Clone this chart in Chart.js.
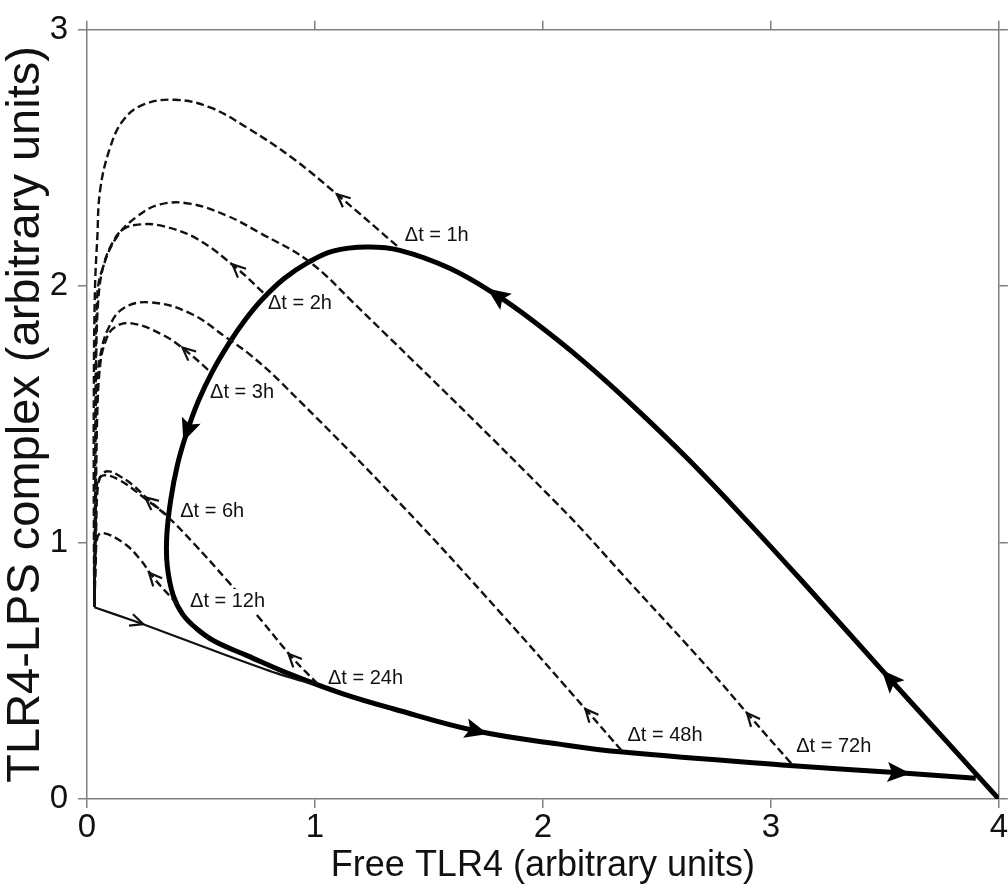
<!doctype html>
<html>
<head>
<meta charset="UTF-8">
<title>TLR4 phase plane</title>
<style>
  html, body { margin: 0; padding: 0; background: #fff; }
</style>
</head>
<body>
<canvas id="myChart" width="1008" height="888"></canvas>

<script src="https://cdn.jsdelivr.net/npm/chart.js@4.4.1/dist/chart.umd.min.js"></script>
<script>
// main trajectory (thick), listed in the direction of its arrows
var cycle = [[4.0,0.0],[3.75,0.245],[3.5,0.49],[3.167,0.82],[2.905,1.075],[2.643,1.32],[2.38,1.546],[2.174,1.71],
  [1.956,1.865],[1.797,1.965],[1.591,2.07],[1.372,2.14],[1.228,2.153],[1.079,2.137],[0.965,2.09],[0.865,2.03],
  [0.77,1.95],[0.695,1.87],[0.625,1.78],[0.55,1.667],[0.488,1.551],[0.44,1.435],[0.398,1.308],[0.367,1.165],
  [0.35,1.026],[0.352,0.91],[0.378,0.795],[0.42,0.72],[0.48,0.665],[0.56,0.615],[0.7,0.56],[0.904,0.482],
  [1.123,0.41],[1.342,0.352],[1.71,0.265],[2.073,0.214],[2.35,0.183],[3.08,0.131],[3.562,0.102],[3.899,0.081]];
var cycleArrows = [[3.52,0.47],[1.797,1.965],[0.44,1.435],[1.71,0.265],[3.562,0.102]];

// thin solid branch from the corner
var thin = [[0.032,0.748],[0.22,0.69],[0.614,0.56],[0.834,0.49],[0.99,0.448]];
var thinArrows = [[0.22,0.69]];

// dashed trajectories, each starting on the main curve at its delay
var traj1h = [[1.36,2.157],[1.118,2.342],[0.904,2.498],[0.702,2.618],[0.54,2.697],[0.387,2.727],[0.247,2.708],
  [0.159,2.647],[0.102,2.542],[0.058,2.377],[0.045,2.184],[0.035,1.99],[0.03,1.6],[0.03,1.1],[0.032,0.75]];
var traj2h = [[0.773,1.975],[0.659,2.068],[0.484,2.184],[0.335,2.234],[0.234,2.241],[0.159,2.222],[0.111,2.168],
  [0.072,2.079],[0.05,1.952],[0.04,1.7],[0.036,1.2],[0.032,0.75]];
var traj3h = [[0.531,1.674],[0.44,1.744],[0.335,1.809],[0.19,1.856],[0.116,1.836],[0.08,1.782],[0.058,1.694],
  [0.045,1.5],[0.038,1.1],[0.032,0.75]];
var traj6h = [[0.356,1.103],[0.277,1.161],[0.2,1.225],[0.146,1.258],[0.095,1.278],[0.065,1.265],[0.048,1.22],
  [0.04,1.05],[0.032,0.75]];
var traj12h = [[0.396,0.76],[0.291,0.864],[0.234,0.934],[0.16,0.999],[0.067,1.038],[0.045,1.018],[0.038,0.9],[0.032,0.75]];
var traj24h = [[1.013,0.448],[0.904,0.548],[0.76,0.702],[0.614,0.853],[0.466,0.999],[0.351,1.103],[0.25,1.175],
  [0.146,1.242],[0.072,1.262],[0.045,1.231],[0.038,1.1],[0.032,0.75]];
var traj48h = [[2.345,0.189],[2.205,0.332],[1.811,0.729],[1.372,1.154],[0.847,1.628],[0.716,1.732],[0.614,1.798],
  [0.453,1.894],[0.277,1.937],[0.16,1.914],[0.094,1.836],[0.059,1.732],[0.045,1.628],[0.038,1.2],[0.032,0.75]];
var traj72h = [[3.089,0.139],[2.914,0.316],[2.73,0.505],[2.393,0.833],[2.06,1.154],[1.167,1.937],[0.97,2.099],
  [0.76,2.207],[0.614,2.275],[0.45,2.322],[0.321,2.319],[0.22,2.272],[0.133,2.195],[0.072,2.079],[0.045,1.964],
  [0.038,1.5],[0.032,0.75]];
var dashedArrows = [[1.118,2.342],[0.659,2.068],[0.44,1.744],[0.277,1.161],[0.291,0.864],[0.904,0.548],[2.205,0.332],[2.914,0.316]];

// delay labels
var dtLabels = ['\u0394t = 1h','\u0394t = 2h','\u0394t = 3h','\u0394t = 6h','\u0394t = 12h','\u0394t = 24h','\u0394t = 48h','\u0394t = 72h'];
var dtLabelX = [1.394,0.794,0.540,0.409,0.452,1.057,2.371,3.111];
var dtLabelY = [2.199,1.933,1.586,1.123,0.772,0.471,0.247,0.204];

var xTicks = [0,1,2,3,4];
var yTicks = [0,1,2,3];

function toXY(arr){
  return arr.map(function(p){ return {x: p[0], y: p[1]}; });
}

var dashedSets = [traj1h, traj2h, traj3h, traj6h, traj12h, traj24h, traj48h, traj72h];
var datasets = [];
dashedSets.forEach(function(t, i){
  datasets.push({
    data: toXY(t), showLine: true, pointRadius: 0, borderColor: '#111', borderWidth: 2.4,
    borderDash: [8,4], tension: 0.4, arrows: [dashedArrows[i]], arrowStyle: 'open'
  });
});
datasets.push({
  data: toXY(thin), showLine: true, pointRadius: 0, borderColor: '#111', borderWidth: 2.2,
  tension: 0.2, arrows: thinArrows, arrowStyle: 'open'
});
datasets.push({
  data: toXY(cycle), showLine: true, pointRadius: 0, borderColor: '#000', borderWidth: 5,
  tension: 0.4, arrows: cycleArrows, arrowStyle: 'filled'
});

// arrow heads along the curves, direction taken from the nearest segment
var arrowPlugin = {
  id: 'arrowHeads',
  afterDatasetsDraw: function(chart){
    var ctx = chart.ctx, xs = chart.scales.x, ys = chart.scales.y;
    chart.data.datasets.forEach(function(ds, i){
      if(!ds.arrows) return;
      var pts = chart.getDatasetMeta(i).data;
      ds.arrows.forEach(function(a){
        var px = xs.getPixelForValue(a[0]), py = ys.getPixelForValue(a[1]);
        var best = 1e9, dx = 1, dy = 0;
        for(var k = 0; k < pts.length - 1; k++){
          var ax = pts[k].x, ay = pts[k].y, bx = pts[k+1].x, by = pts[k+1].y;
          var vx = bx - ax, vy = by - ay, l2 = vx*vx + vy*vy || 1;
          var t = Math.max(0, Math.min(1, ((px-ax)*vx + (py-ay)*vy) / l2));
          var cx = ax + t*vx - px, cy = ay + t*vy - py, d = cx*cx + cy*cy;
          if(d < best - 0.01){ best = d; var n = Math.sqrt(l2); dx = vx/n; dy = vy/n; }
        }
        var nx = -dy, ny = dx;
        ctx.save();
        if(ds.arrowStyle === 'filled'){
          var L = 23, W = 10;
          ctx.fillStyle = '#000';
          ctx.beginPath();
          ctx.moveTo(px + dx*L/2, py + dy*L/2);
          ctx.lineTo(px - dx*L/2 + nx*W, py - dy*L/2 + ny*W);
          ctx.lineTo(px - dx*L*0.3, py - dy*L*0.3);
          ctx.lineTo(px - dx*L/2 - nx*W, py - dy*L/2 - ny*W);
          ctx.closePath();
          ctx.fill();
        } else {
          var L2 = 13, W2 = 6;
          ctx.strokeStyle = '#111';
          ctx.lineWidth = 2.2;
          ctx.beginPath();
          ctx.moveTo(px - dx*L2/2 + nx*W2, py - dy*L2/2 + ny*W2);
          ctx.lineTo(px + dx*L2/2, py + dy*L2/2);
          ctx.lineTo(px - dx*L2/2 - nx*W2, py - dy*L2/2 - ny*W2);
          ctx.stroke();
        }
        ctx.restore();
      });
    });
  }
};

// "Δt = ..." labels placed through the scales
var labelPlugin = {
  id: 'dtLabels',
  afterDatasetsDraw: function(chart){
    var ctx = chart.ctx, xs = chart.scales.x, ys = chart.scales.y;
    ctx.save();
    ctx.font = '20px "Liberation Sans", Arial, sans-serif';
    ctx.textBaseline = 'middle';
    ctx.textAlign = 'left';
    dtLabels.forEach(function(txt, i){
      var px = xs.getPixelForValue(dtLabelX[i]), py = ys.getPixelForValue(dtLabelY[i]);
      if(txt === '\u0394t = 12h'){
        var w = ctx.measureText(txt).width;
        ctx.fillStyle = '#fff';
        ctx.fillRect(px - 1, py - 12, w + 4, 24);
      }
      ctx.fillStyle = '#111';
      ctx.fillText(txt, px, py);
    });
    ctx.restore();
  }
};

var axisGray = '#7f7f7f';
var tickFont = {family: '"Liberation Sans", Arial, sans-serif', size: 33};

var ctx = document.getElementById('myChart');
var myChart = new Chart(ctx, {
  type: 'scatter',
  data: { datasets: datasets },
  options: {
    responsive: false,
    animation: false,
    layout: { padding: { top: 13, right: 0, left: 0, bottom: 0 } },
    plugins: { legend: { display: false }, tooltip: { enabled: false } },
    scales: {
      x: {
        type: 'linear', position: 'bottom', min: 0, max: 4,
        afterBuildTicks: function(s){ s.ticks = xTicks.map(function(v){ return {value: v}; }); },
        ticks: { font: tickFont, color: '#111', padding: 0 },
        grid: { drawOnChartArea: false, tickLength: 9, color: axisGray, lineWidth: 1.5 },
        border: { color: axisGray, width: 1.5 },
        title: { display: true, text: 'Free TLR4 (arbitrary units)', color: '#111',
          font: {family: '"Liberation Sans", Arial, sans-serif', size: 36}, padding: {top: 4, bottom: 0} },
        afterFit: function(s){ s.height = 89; }
      },
      y: {
        type: 'linear', position: 'left', min: 0, max: 3,
        afterBuildTicks: function(s){ s.ticks = yTicks.map(function(v){ return {value: v}; }); },
        ticks: { font: tickFont, color: '#111', padding: 10 },
        grid: { drawOnChartArea: false, tickLength: 9, color: axisGray, lineWidth: 1.5 },
        border: { color: axisGray, width: 1.5 },
        title: { display: true, text: 'TLR4-LPS complex (arbitrary units)', color: '#111',
          font: {family: '"Liberation Sans", Arial, sans-serif', size: 47}, padding: {top: -2, bottom: 0} },
        afterFit: function(s){ s.width = 87; }
      },
      x2: {
        type: 'linear', position: 'top', min: 0, max: 4,
        afterBuildTicks: function(s){ s.ticks = xTicks.map(function(v){ return {value: v}; }); },
        ticks: { display: false },
        grid: { drawOnChartArea: false, tickLength: 9, color: axisGray, lineWidth: 1.5 },
        border: { color: axisGray, width: 1.5 },
        afterFit: function(s){ s.height = 9; }
      },
      y2: {
        type: 'linear', position: 'right', min: 0, max: 3,
        afterBuildTicks: function(s){ s.ticks = yTicks.map(function(v){ return {value: v}; }); },
        ticks: { display: false },
        grid: { drawOnChartArea: false, tickLength: 9, color: axisGray, lineWidth: 1.5 },
        border: { color: axisGray, width: 1.5 },
        afterFit: function(s){ s.width = 9; }
      }
    }
  },
  plugins: [arrowPlugin, labelPlugin]
});
</script>
</body>
</html>
